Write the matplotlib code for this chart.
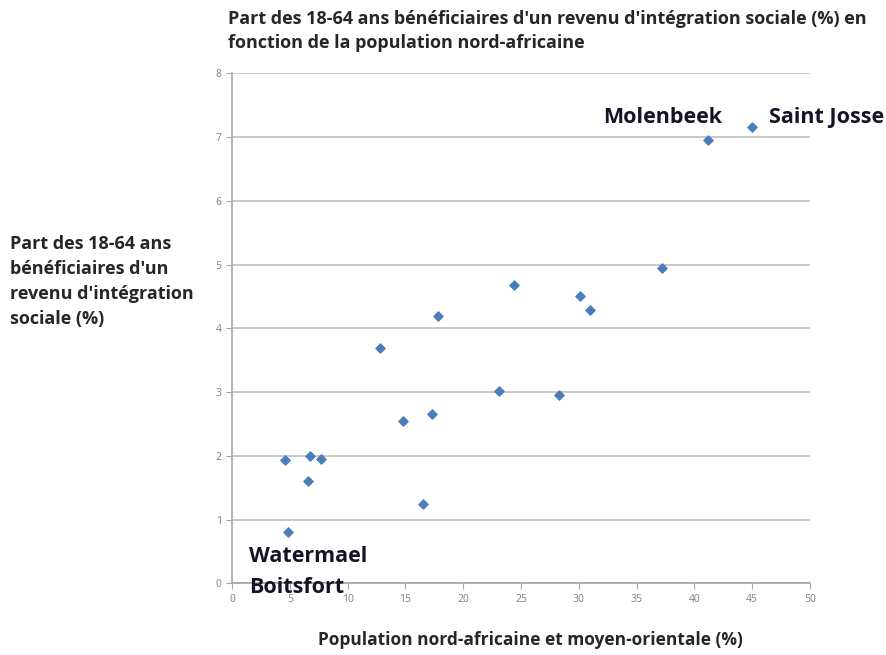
import matplotlib.pyplot as plt

# population nord-africaine et moyen-orientale (%) / part RIS (%)
pop_na = [4.6, 4.8, 6.7, 6.6, 7.7, 12.8, 14.8, 16.5, 17.3, 17.8, 23.1, 24.4,
          28.3, 30.1, 31.0, 37.2, 41.2, 45.0]
ris = [1.93, 0.80, 2.00, 1.60, 1.95, 3.70, 2.55, 1.25, 2.66, 4.19, 3.02, 4.68,
       2.95, 4.50, 4.29, 4.94, 6.96, 7.16]

labels = [("Molenbeek", 32.1, 7.30), ("Saint Josse", 46.5, 7.30),
          ("Watermael", 1.5, 0.42), ("Boitsfort", 1.5, -0.07)]

xticks = list(range(0, 51, 5))
yticks = list(range(0, 9))

plt.rcParams['font.family'] = ['Open Sans', 'DejaVu Sans']

fig = plt.figure(figsize=(8.87, 6.55), dpi=100)
ax = fig.add_axes([0.2617, 0.1092, 0.6513, 0.7789])

ax.scatter(pop_na, ris, marker='D', s=22, color='#4a7ebb', zorder=3)

ax.set_xlim(0, 50)
ax.set_ylim(0, 8)
ax.set_xticks(xticks)
ax.set_yticks(yticks)
ax.grid(axis='y', color='#bfbfbf', linewidth=1.2)
ax.set_axisbelow(True)
for s in ['top', 'right']:
    ax.spines[s].set_visible(False)
for s in ['left', 'bottom']:
    ax.spines[s].set_color('#a6a6a6')
    ax.spines[s].set_linewidth(1.2)
ax.tick_params(colors='#a6a6a6', labelcolor='#7f7f7f', labelsize=7.5, length=4, direction='out')

for txt, x, y in labels:
    ax.text(x, y, txt, fontsize=15.5, fontweight='bold', color='#141428',
            ha='left', va='center', clip_on=False, zorder=4)

fig.text(0.257, 0.985, "Part des 18-64 ans bénéficiaires d'un revenu d'intégration sociale (%) en\n"
         "fonction de la population nord-africaine",
         fontsize=13, fontweight='bold', color='#262626', ha='left', va='top', linespacing=1.45)

fig.text(0.011, 0.5695, "Part des 18-64 ans\nbénéficiaires d'un\nrevenu d'intégration\nsociale (%)",
         fontsize=13, fontweight='bold', color='#262626', ha='left', va='center', linespacing=1.5)

fig.text(0.598, 0.023, "Population nord-africaine et moyen-orientale (%)",
         fontsize=12.5, fontweight='bold', color='#262626', ha='center', va='center')

fig.savefig('out.png', dpi=100)
